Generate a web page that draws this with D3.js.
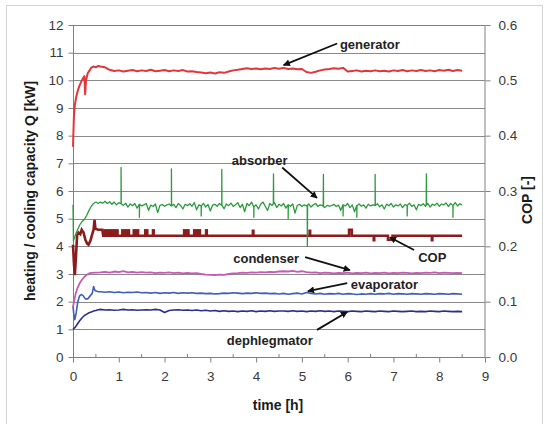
<!DOCTYPE html>
<html>
<head>
<meta charset="utf-8">
<script src="https://cdn.jsdelivr.net/npm/d3@7"></script>
<style>
  html, body { margin: 0; padding: 0; background: #fff; }
  svg { display: block; font-family: "Liberation Sans", Arial, sans-serif; }
</style>
</head>
<body>
<svg id="chart" width="550" height="424"></svg>
<script>
// ---------- DATA ----------
const xTicks = [0, 1, 2, 3, 4, 5, 6, 7, 8, 9];
const yTicks = [0, 1, 2, 3, 4, 5, 6, 7, 8, 9, 10, 11, 12];
const copTicks = [0.0, 0.1, 0.2, 0.3, 0.4, 0.5, 0.6];

// steady parts start at t = 0.6 h
const steadyStart = 0.6;
const stepCoarse = 0.1;   // generator, condenser, evaporator, dephlegmator
const stepFine = 0.05;    // absorber

// generator [kW]
const generatorStartup = [[0,7.6],[0.02,8.7],[0.04,9.1],[0.07,9.4],[0.1,9.6],[0.14,9.8],[0.18,9.95],[0.22,10.08],[0.25,10.15],[0.265,9.5],[0.285,10.0],[0.32,10.25],[0.36,10.35],[0.4,10.46],[0.45,10.5],[0.5,10.47],[0.55,10.52]];
const generatorSteady = [
  10.50,10.47,10.38,10.34,10.36,10.32,10.35,10.37,10.33,10.36,
  10.34,10.38,10.33,10.35,10.37,10.33,10.36,10.34,10.37,10.32,
  10.33,10.30,10.28,10.26,10.28,10.25,10.29,10.27,10.32,10.36,
  10.38,10.41,10.44,10.41,10.43,10.40,10.43,10.41,10.45,10.42,
  10.45,10.41,10.43,10.40,10.41,10.30,10.27,10.31,10.36,10.39,
  10.41,10.44,10.42,10.45,10.32,10.34,10.36,10.32,10.35,10.33,
  10.36,10.33,10.35,10.32,10.36,10.34,10.37,10.33,10.36,10.34,
  10.37,10.34,10.36,10.33,10.37,10.35,10.38,10.34,10.37,10.35];

// absorber [kW]
const absorberStartup = [[0,5.5],[0.01,4.2],[0.03,4.3],[0.06,4.45],[0.1,4.6],[0.15,4.78],[0.2,4.9],[0.25,4.98],[0.3,5.12],[0.35,5.3],[0.4,5.45],[0.45,5.55],[0.5,5.6],[0.55,5.55]];
const absorberSteady = [
  5.60,5.56,5.63,5.55,5.61,5.52,5.60,5.50,5.58,5.54,
  5.48,5.56,5.42,5.53,5.47,5.55,5.38,5.52,5.46,5.50,
  5.55,5.30,5.49,5.44,5.53,5.22,5.48,5.51,5.45,5.50,
  5.53,5.46,5.52,5.40,5.55,5.48,5.35,5.52,5.47,5.54,
  5.45,5.58,5.32,5.50,5.46,5.55,5.42,5.51,5.28,5.49,
  5.52,5.45,5.55,5.48,5.36,5.53,5.47,5.56,5.44,5.50,
  5.58,5.40,5.52,5.25,5.55,5.47,5.60,5.43,5.50,5.35,
  5.52,5.60,5.45,5.30,5.55,5.48,5.58,5.40,5.52,5.46,
  5.55,5.38,5.50,5.45,5.53,5.20,5.48,5.52,5.44,5.50,
  5.46,5.53,5.42,5.50,5.55,5.44,5.50,5.47,5.40,5.48,
  5.45,5.47,5.52,5.44,5.49,5.30,5.50,5.46,5.55,5.40,
  5.50,5.25,5.47,5.53,5.45,5.50,5.38,5.52,5.46,5.50,
  5.48,5.54,5.43,5.50,5.35,5.52,5.47,5.55,5.42,5.50,
  5.46,5.53,5.40,5.51,5.48,5.56,5.44,5.50,5.32,5.52,
  5.47,5.54,5.45,5.55,5.42,5.52,5.48,5.56,5.45,5.53,
  5.50,5.57,5.44,5.55,5.48,5.58,5.46,5.54,5.50];
const absorberSpikes = [[1.05,6.85],[2.15,6.8],[3.25,6.78],[4.38,6.62],[5.47,6.6],[6.6,6.6],[7.72,6.62],[5.12,4.0],
  [1.45,5.05],[2.8,5.1],[3.95,5.05],[4.7,5.0],[5.9,5.1],[6.2,5.05],[7.3,5.1],[8.3,5.05]];

// condenser [kW]
const condenserStartup = [[0,1.8],[0.03,2.08],[0.06,2.3],[0.1,2.5],[0.15,2.68],[0.2,2.8],[0.25,2.9],[0.3,2.97],[0.35,3.02],[0.4,3.04],[0.5,3.05]];
const condenserSteady = [
  3.06,3.08,3.05,3.09,3.07,3.10,3.06,3.08,3.05,3.07,
  3.05,3.06,3.03,3.05,3.04,3.06,3.03,3.05,3.02,3.04,
  3.02,3.03,3.00,2.98,2.97,2.96,2.98,2.97,3.00,3.02,
  3.03,3.05,3.04,3.06,3.05,3.07,3.06,3.08,3.07,3.09,
  3.10,3.09,3.11,3.08,3.10,3.07,3.05,3.06,3.03,3.05,
  3.04,3.02,3.04,3.03,3.05,3.02,3.04,3.03,3.05,3.02,
  3.04,3.03,3.05,3.02,3.04,3.03,3.05,3.04,3.02,3.04,
  3.03,3.05,3.04,3.06,3.03,3.05,3.04,3.03,3.04,3.03];

// evaporator [kW]
const evaporatorStartup = [[0,1.85],[0.02,1.5],[0.04,1.35],[0.07,1.6],[0.1,1.95],[0.14,2.2],[0.18,2.26],[0.22,2.22],[0.27,2.1],[0.32,2.1],[0.37,2.2],[0.42,2.3],[0.45,2.55],[0.48,2.4],[0.52,2.38],[0.56,2.36]];
const evaporatorSteady = [
  2.36,2.34,2.36,2.33,2.35,2.32,2.34,2.33,2.35,2.32,
  2.33,2.31,2.33,2.30,2.32,2.31,2.33,2.30,2.32,2.31,
  2.32,2.30,2.31,2.29,2.30,2.28,2.29,2.31,2.30,2.32,
  2.31,2.29,2.31,2.30,2.32,2.30,2.31,2.29,2.30,2.28,
  2.30,2.27,2.29,2.31,2.28,2.33,2.30,2.28,2.30,2.27,
  2.29,2.28,2.30,2.27,2.29,2.28,2.26,2.28,2.27,2.29,
  2.27,2.29,2.28,2.30,2.27,2.29,2.28,2.27,2.29,2.28,
  2.27,2.29,2.28,2.27,2.29,2.28,2.27,2.29,2.28,2.27];

// dephlegmator [kW]
const dephlegmatorStartup = [[0,1.0],[0.05,1.08],[0.1,1.2],[0.15,1.32],[0.2,1.42],[0.25,1.5],[0.3,1.55],[0.35,1.6],[0.4,1.63],[0.45,1.66],[0.5,1.68],[0.55,1.71]];
const dephlegmatorSteady = [
  1.72,1.70,1.71,1.69,1.70,1.72,1.70,1.71,1.69,1.70,
  1.71,1.70,1.72,1.70,1.61,1.68,1.70,1.71,1.69,1.70,
  1.68,1.70,1.67,1.69,1.66,1.68,1.65,1.67,1.65,1.66,
  1.64,1.66,1.65,1.67,1.64,1.66,1.65,1.67,1.65,1.66,
  1.66,1.65,1.67,1.65,1.66,1.64,1.66,1.65,1.67,1.65,
  1.66,1.64,1.66,1.65,1.64,1.66,1.65,1.64,1.66,1.65,
  1.64,1.66,1.65,1.64,1.66,1.65,1.64,1.65,1.66,1.64,
  1.65,1.64,1.66,1.65,1.64,1.66,1.65,1.64,1.65,1.64];

// COP [-] (right axis)
const copLine = [[0,0.203],[0.02,0.17],[0.04,0.148],[0.06,0.175],[0.09,0.22],[0.12,0.225],[0.16,0.222],[0.19,0.23],[0.23,0.225],[0.27,0.212],[0.31,0.205],[0.34,0.203],[0.38,0.21],[0.42,0.222],[0.45,0.23],[0.47,0.248],[0.49,0.232],[0.55,0.23],[0.64,0.23],[0.66,0.219],
  [3.93,0.219],[3.93,0.228],[3.94,0.228],[3.94,0.219],
  [5.17,0.219],[5.17,0.228],[5.18,0.228],[5.18,0.219],
  [6.03,0.219],[6.03,0.23],[6.09,0.23],[6.09,0.219],
  [6.57,0.219],[6.57,0.211],[6.58,0.211],[6.58,0.219],
  [6.88,0.219],[6.88,0.212],[6.98,0.212],[6.98,0.219],
  [7.84,0.219],[7.84,0.211],[7.85,0.211],[7.85,0.219],[8.5,0.219]];
// intervals where COP flickers between these two levels
const copBlocks = [[0.66,1.0],[1.05,1.25],[1.3,1.45],[1.55,1.65],[1.72,1.79],[2.4,2.55],[2.62,2.8],[2.88,2.95]];
const copBlockLevels = [0.219, 0.229];

// annotations: label, text anchor point (t, Q), arrow tail (t, Q), arrow head (t, Q)
const annotations = [
  {label: "generator",    text: [5.83, 11.31], tail: [5.77, 11.33], head: [4.6, 10.55]},
  {label: "absorber",     text: [3.47, 7.12],  tail: [4.57, 6.85],  head: [5.33, 5.75]},
  {label: "COP",          text: [7.54, 3.61],  tail: [7.45, 3.87],  head: [6.92, 4.33]},
  {label: "condenser",    text: [3.5, 3.58],   tail: [5.07, 3.61],  head: [6.05, 3.14]},
  {label: "evaporator",   text: [6.07, 2.64],  tail: [5.99, 2.67],  head: [5.13, 2.38]},
  {label: "dephlegmator", text: [3.36, 0.61],  tail: [5.33, 0.98],  head: [5.99, 1.63]}
];

// ---------- BUILD ----------
function build(startup, steady, step) {
  return startup.concat(steady.map((v, i) => [+(steadyStart + i * step).toFixed(3), v]));
}
const generator = build(generatorStartup, generatorSteady, stepCoarse);
const condenser = build(condenserStartup, condenserSteady, stepCoarse);
const evaporator = build(evaporatorStartup, evaporatorSteady, stepCoarse);
const dephlegmator = build(dephlegmatorStartup, dephlegmatorSteady, stepCoarse);
let absorber = build(absorberStartup, absorberSteady, stepFine);
(function addSpikes() {
  const interp = t => {
    for (let i = 1; i < absorber.length; i++) {
      const a = absorber[i - 1], b = absorber[i];
      if (t >= a[0] && t <= b[0]) return a[1] + (b[1] - a[1]) * (t - a[0]) / (b[0] - a[0]);
    }
    return absorber[absorber.length - 1][1];
  };
  const extra = [];
  absorberSpikes.forEach(([t, v]) => {
    const base = interp(t);
    extra.push([t - 0.004, base], [t, v], [t + 0.004, base]);
  });
  absorber = absorber.concat(extra).sort((a, b) => a[0] - b[0]);
})();

// ---------- CHART ----------
const svg = d3.select("#chart");
const L = 73, R = 485, T = 25, B = 357;
const x = d3.scaleLinear().domain([0, 9]).range([L, R]);
const y = d3.scaleLinear().domain([0, 12]).range([B, T]);
const yc = d3.scaleLinear().domain([0, 0.6]).range([B, T]);

// outer frame
svg.append("rect").attr("x", 6.5).attr("y", 5.5).attr("width", 536).attr("height", 430)
  .attr("fill", "none").attr("stroke", "#d4d4d4").attr("stroke-width", 1);

// gridlines
svg.append("g").selectAll("line").data(yTicks.slice(1, -1)).join("line")
  .attr("x1", L).attr("x2", R)
  .attr("y1", d => Math.round(y(d)) + 0.5).attr("y2", d => Math.round(y(d)) + 0.5)
  .attr("stroke", "#8a8a8a").attr("stroke-width", 1);

// plot border
svg.append("rect").attr("x", L + 0.5).attr("y", T + 0.5).attr("width", R - L - 0.5).attr("height", B - T)
  .attr("fill", "none").attr("stroke", "#808080").attr("stroke-width", 1);

const tickFont = 13.5, tickColor = "#3a3a3a";

// left axis
const gl = svg.append("g").attr("transform", `translate(${L + 0.5},0)`)
  .call(d3.axisLeft(y).tickValues(yTicks).tickFormat(d3.format("d")).tickSize(5).tickPadding(5));
// bottom axis
const gb = svg.append("g").attr("transform", `translate(0,${B + 0.5})`)
  .call(d3.axisBottom(x).tickValues(xTicks).tickFormat(d3.format("d")).tickSize(5).tickPadding(9));
// right axis
const gr = svg.append("g").attr("transform", `translate(${R + 0.5},0)`)
  .call(d3.axisRight(yc).tickValues(copTicks).tickFormat(d3.format(".1f")).tickSize(5).tickPadding(8));
[gl, gb, gr].forEach(g => {
  g.select(".domain").remove();
  g.selectAll(".tick line").attr("stroke", "#808080");
  g.selectAll(".tick text").attr("font-size", tickFont).attr("fill", tickColor)
    .attr("font-family", "'Liberation Sans', Arial, sans-serif");
});
// minor x ticks (inside)
svg.append("g").selectAll("line").data(xTicks.slice(0, -1).map(d => d + 0.5)).join("line")
  .attr("x1", d => x(d)).attr("x2", d => x(d)).attr("y1", B).attr("y2", B - 3)
  .attr("stroke", "#808080");

// series
const line = (ys) => d3.line().x(d => x(d[0])).y(d => ys(d[1]));
const series = [
  {data: dephlegmator, color: "#2b2f8c", w: 1.6},
  {data: evaporator,   color: "#3f5fb8", w: 1.6},
  {data: condenser,    color: "#c65bb4", w: 1.8}
];
series.forEach(s => svg.append("path").datum(s.data).attr("d", line(y))
  .attr("fill", "none").attr("stroke", s.color).attr("stroke-width", s.w).attr("stroke-linejoin", "round"));

// COP
const copColor = "#8c1c1c";
svg.append("g").selectAll("rect").data(copBlocks).join("rect")
  .attr("x", d => x(d[0])).attr("width", d => x(d[1]) - x(d[0]))
  .attr("y", yc(copBlockLevels[1]) - 1.2)
  .attr("height", yc(copBlockLevels[0]) - yc(copBlockLevels[1]) + 2.4)
  .attr("fill", copColor);
svg.append("path").datum(copLine).attr("d", line(yc))
  .attr("fill", "none").attr("stroke", copColor).attr("stroke-width", 2.6).attr("stroke-linejoin", "miter");

// absorber
svg.append("path").datum(absorber).attr("d", line(y))
  .attr("fill", "none").attr("stroke", "#2d9a3e").attr("stroke-width", 1.3).attr("stroke-linejoin", "round");
// generator
svg.append("path").datum(generator).attr("d", line(y))
  .attr("fill", "none").attr("stroke", "#e2363a").attr("stroke-width", 2).attr("stroke-linejoin", "round");

// annotations
const defs = svg.append("defs");
defs.append("marker").attr("id", "ah").attr("viewBox", "0 0 10 10").attr("refX", 9).attr("refY", 5)
  .attr("markerWidth", 7).attr("markerHeight", 7).attr("markerUnits", "userSpaceOnUse").attr("orient", "auto")
  .append("path").attr("d", "M0,0 L10,5 L0,10 z").attr("fill", "#111");
const ag = svg.append("g");
annotations.forEach(a => {
  ag.append("line")
    .attr("x1", x(a.tail[0])).attr("y1", y(a.tail[1]))
    .attr("x2", x(a.head[0])).attr("y2", y(a.head[1]))
    .attr("stroke", "#111").attr("stroke-width", 1.8).attr("marker-end", "url(#ah)");
  ag.append("text").attr("x", x(a.text[0])).attr("y", y(a.text[1]))
    .attr("dy", "0.35em").attr("font-size", 13).attr("font-weight", "bold").attr("fill", "#222")
    .text(a.label);
});

// axis titles
svg.append("text").attr("transform", `translate(30,${(T + B) / 2}) rotate(-90)`)
  .attr("text-anchor", "middle").attr("dy", "0.35em").attr("font-size", 14).attr("font-weight", "bold").attr("fill", "#1a1a1a")
  .text("heating / cooling capacity Q [kW]");
svg.append("text").attr("transform", `translate(527,200) rotate(-90)`)
  .attr("text-anchor", "middle").attr("dy", "0.35em").attr("font-size", 14).attr("font-weight", "bold").attr("fill", "#1a1a1a")
  .text("COP [-]");
svg.append("text").attr("x", 278).attr("y", 405)
  .attr("text-anchor", "middle").attr("dy", "0.35em").attr("font-size", 14).attr("font-weight", "bold").attr("fill", "#1a1a1a")
  .text("time [h]");
</script>
</body>
</html>
